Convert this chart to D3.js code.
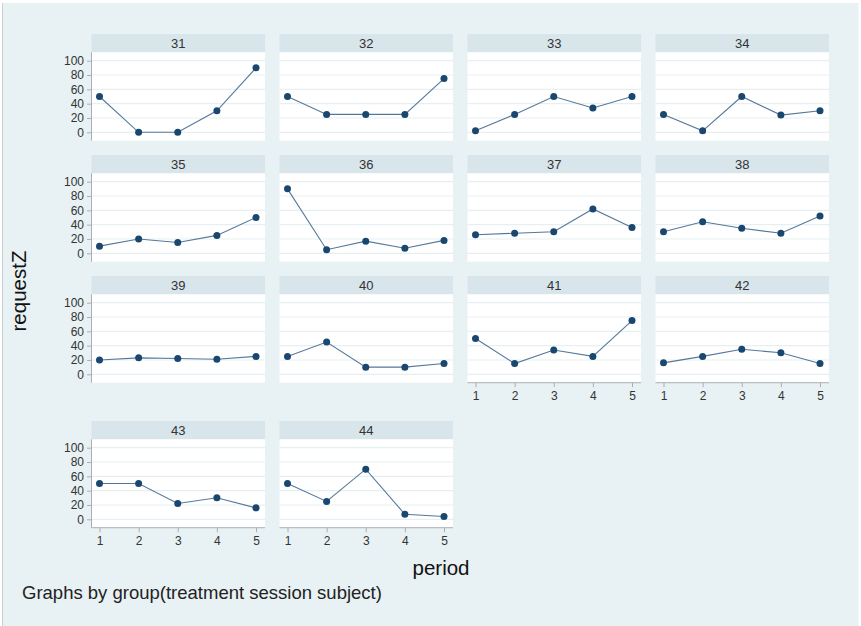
<!DOCTYPE html>
<html>
<head>
<meta charset="utf-8">
<script src="https://cdn.jsdelivr.net/npm/d3@7"></script>
<style>
  html, body { margin: 0; padding: 0; background: #ffffff; }
  svg { display: block; }
</style>
</head>
<body>
<svg id="chart" width="861" height="626"></svg>
<script>
// Panel groups (subjects) and their requestZ values over periods 1..5
const groups = ["31","32","33","34","35","36","37","38","39","40","41","42","43","44"];
const periods = [1, 2, 3, 4, 5];
const values31 = [50, 0, 0, 30, 90];
const values32 = [50, 25, 25, 25, 75];
const values33 = [2, 25, 50, 34, 50];
const values34 = [25, 2, 50, 24, 30];
const values35 = [10, 20, 15, 25, 50];
const values36 = [90, 5, 17, 7, 18];
const values37 = [26, 28, 30, 62, 36];
const values38 = [30, 44, 35, 28, 52];
const values39 = [20, 23, 22, 21, 25];
const values40 = [25, 45, 10, 10, 15];
const values41 = [50, 15, 34, 25, 75];
const values42 = [16, 25, 35, 30, 15];
const values43 = [50, 50, 22, 30, 16];
const values44 = [50, 25, 70, 7, 4];
const yTicks = [0, 20, 40, 60, 80, 100];
const xTicks = [1, 2, 3, 4, 5];

const seriesByGroup = {
  "31": values31, "32": values32, "33": values33, "34": values34,
  "35": values35, "36": values36, "37": values37, "38": values38,
  "39": values39, "40": values40, "41": values41, "42": values42,
  "43": values43, "44": values44
};

const svg = d3.select("#chart");
const W = 861, H = 626;

// Graph region background
svg.append("rect").attr("x", 3).attr("y", 3).attr("width", 855).attr("height", H - 3)
  .attr("fill", "#e8f1f3");
svg.append("line").attr("x1", 2.5).attr("x2", 2.5).attr("y1", 3).attr("y2", H)
  .attr("stroke", "#c9cfd2").attr("stroke-width", 1);
svg.append("line").attr("x1", 858.5).attr("x2", 858.5).attr("y1", 3).attr("y2", H)
  .attr("stroke", "#f4f7f8").attr("stroke-width", 1);

const ncol = 4;
const colX = [91.5, 279.5, 467.5, 655.5];
const rowTop = [34, 155, 276, 421];
const panelW = 173.5;
const stripH = 18.3;
const plotH = 88.4;

const x = d3.scaleLinear().domain([1, 5]).range([8, 164.5]);
const y = d3.scaleLinear().domain([0, 100]).range([plotH - 8.4, 8.4]);

const navy = "#1a476f";
const font = "Liberation Sans, Arial, Helvetica, sans-serif";

groups.forEach((g, i) => {
  const r = Math.floor(i / ncol), c = i % ncol;
  const px = colX[c], py = rowTop[r];
  const panel = svg.append("g").attr("transform", `translate(${px},${py})`);

  // strip title
  panel.append("rect").attr("width", panelW).attr("height", stripH).attr("fill", "#d8e5eb");
  panel.append("text").attr("x", panelW / 2).attr("y", stripH / 2 + 4.6)
    .attr("text-anchor", "middle").attr("font-family", font).attr("font-size", 13)
    .attr("fill", "#333").text(g);

  const plot = panel.append("g").attr("transform", `translate(0,${stripH})`);
  plot.append("rect").attr("width", panelW).attr("height", plotH).attr("fill", "#ffffff");

  // horizontal grid
  plot.selectAll("line.grid").data(yTicks).join("line").attr("class", "grid")
    .attr("x1", 0).attr("x2", panelW)
    .attr("y1", d => y(d)).attr("y2", d => y(d))
    .attr("stroke", "#e6eff1").attr("stroke-width", 1.2);

  // y axis on first column
  if (c === 0) {
    const ya = d3.axisLeft(y).tickValues(yTicks).tickSize(4.5).tickPadding(3);
    const ag = plot.append("g").call(ya);
    ag.select(".domain").attr("d", `M0,0V${plotH}`).attr("stroke", "#a8b0b4");
    ag.selectAll(".tick line").attr("stroke", "#a8b0b4");
    ag.selectAll("text").attr("font-family", font).attr("font-size", 12).attr("fill", "#333");
  }

  // x axis where no panel sits below
  const hasBelow = groups.length > i + ncol;
  if (!hasBelow) {
    const xa = d3.axisBottom(x).tickValues(xTicks).tickFormat(d3.format("d")).tickSize(4.5).tickPadding(4);
    const ag = plot.append("g").attr("transform", `translate(0,${plotH})`).call(xa);
    ag.select(".domain").attr("d", `M0,0H${panelW}`).attr("stroke", "#a8b0b4");
    ag.selectAll(".tick line").attr("stroke", "#a8b0b4");
    ag.selectAll("text").attr("font-family", font).attr("font-size", 12).attr("fill", "#333");
  }

  const vals = seriesByGroup[g];
  const pts = periods.map((p, k) => [p, vals[k]]);
  plot.append("path").datum(pts)
    .attr("d", d3.line().x(d => x(d[0])).y(d => y(d[1])))
    .attr("fill", "none").attr("stroke", "#55789a").attr("stroke-width", 1.1);
  plot.selectAll("circle").data(pts).join("circle")
    .attr("cx", d => x(d[0])).attr("cy", d => y(d[1])).attr("r", 3.5)
    .attr("fill", navy);
});

// axis titles and note
svg.append("text").attr("transform", "translate(25.5,291) rotate(-90)")
  .attr("text-anchor", "middle").attr("font-family", font).attr("font-size", 20.5)
  .attr("fill", "#111").text("requestZ");
svg.append("text").attr("x", 22).attr("y", 575)
  .attr("x", 441).attr("text-anchor", "middle").attr("font-family", font).attr("font-size", 20.5)
  .attr("fill", "#111").text("period");
svg.append("text").attr("x", 22).attr("y", 598.5)
  .attr("font-family", font).attr("font-size", 18.5)
  .attr("fill", "#222").text("Graphs by group(treatment session subject)");
</script>
</body>
</html>
